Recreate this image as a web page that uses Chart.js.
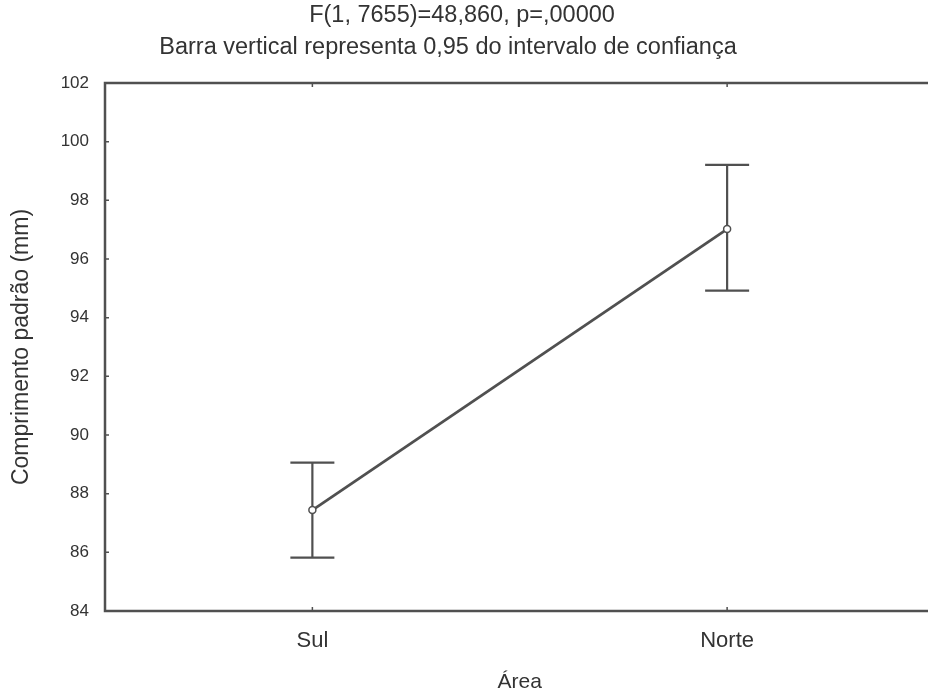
<!DOCTYPE html>
<html>
<head>
<meta charset="utf-8">
<script src="https://cdn.jsdelivr.net/npm/chart.js@4.4.1/dist/chart.umd.min.js"></script>
<style>
  html, body { margin: 0; padding: 0; background: #fff; }
  #wrap { width: 928px; height: 695px; overflow: hidden; }
  #box { width: 940px; height: 695px; }
</style>
</head>
<body>
<div id="wrap"><div id="box"><canvas id="myChart"></canvas></div></div>
<script>
  // data
  let areas = ["Sul", "Norte"];
  let means = [87.44, 97.02];
  let ciLow = [85.82, 94.92];
  let ciHigh = [89.06, 99.21];
  let titleLines = ["F(1, 7655)=48,860, p=,00000", "Barra vertical representa 0,95 do intervalo de confiança"];

  const ink = "#505050";
  const textInk = "#333333";
  const font = "Liberation Sans";

  // titles, frame, inward ticks and the confidence bars
  const errorBars = {
    id: "errorBars",
    beforeDatasetsDraw(chart) {
      const c = chart.ctx, x = chart.scales.x, y = chart.scales.y;
      c.save();
      c.strokeStyle = ink;
      c.lineWidth = 2.2;
      areas.forEach((a, i) => {
        const px = x.getPixelForValue(i);
        const lo = y.getPixelForValue(ciLow[i]);
        const hi = y.getPixelForValue(ciHigh[i]);
        c.beginPath();
        c.moveTo(px, lo); c.lineTo(px, hi);
        c.moveTo(px - 22, lo); c.lineTo(px + 22, lo);
        c.moveTo(px - 22, hi); c.lineTo(px + 22, hi);
        c.stroke();
      });
      c.restore();
    },
    afterDraw(chart) {
      const c = chart.ctx, a = chart.chartArea, x = chart.scales.x, y = chart.scales.y;
      c.save();
      c.strokeStyle = ink;
      c.lineWidth = 2.5;
      c.beginPath();
      c.moveTo(a.right, a.top); c.lineTo(a.left, a.top);
      c.lineTo(a.left, a.bottom); c.lineTo(a.right, a.bottom);
      c.stroke();
      c.lineWidth = 1.5;
      c.beginPath();
      y.ticks.forEach((t, i) => {
        const py = y.getPixelForTick(i);
        c.moveTo(a.left, py); c.lineTo(a.left + 4, py);
      });
      areas.forEach((s, i) => {
        const px = x.getPixelForValue(i);
        c.moveTo(px, a.bottom); c.lineTo(px, a.bottom - 4);
        c.moveTo(px, a.top); c.lineTo(px, a.top + 4);
      });
      c.stroke();

      c.fillStyle = textInk;
      c.font = "23.5px '" + font + "'";
      c.textAlign = "center";
      c.textBaseline = "middle";
      c.fillText(titleLines[0], 462, 16);
      c.fillText(titleLines[1], 448, 48);
      c.restore();
    }
  };

  let data = {
    labels: areas,
    datasets: [{
      data: means,
      borderColor: ink,
      borderWidth: 2.8,
      pointRadius: 3.5,
      pointBorderWidth: 1.5,
      pointBackgroundColor: "#ffffff",
      pointBorderColor: ink,
      tension: 0
    }]
  };

  let configuration = {
    type: "line",
    data: data,
    options: {
      responsive: true,
      maintainAspectRatio: false,
      animation: false,
      layout: { padding: { left: 0, right: 0, top: 83, bottom: 0 } },
      plugins: {
        legend: { display: false },
        tooltip: { enabled: false },
        title: { display: false }
      },
      scales: {
        x: {
          offset: true,
          grid: { display: false },
          border: { display: false },
          ticks: { color: textInk, font: { family: font, size: 22 }, padding: 9 },
          title: { display: true, text: "Área", color: textInk, font: { family: font, size: 21 }, padding: { top: 10, bottom: 0 } },
          afterFit(s) { s.height = 84; }
        },
        y: {
          min: 84,
          max: 102,
          grid: { display: false },
          border: { display: false },
          ticks: { stepSize: 2, color: textInk, font: { family: font, size: 17 }, padding: 8 },
          title: { display: true, text: "Comprimento padrão (mm)", color: textInk, font: { family: font, size: 23 }, padding: { top: 8, bottom: 8 } },
          afterFit(s) { s.width = 105; }
        }
      }
    },
    plugins: [errorBars]
  };

  new Chart(document.getElementById("myChart"), configuration);
</script>
</body>
</html>
